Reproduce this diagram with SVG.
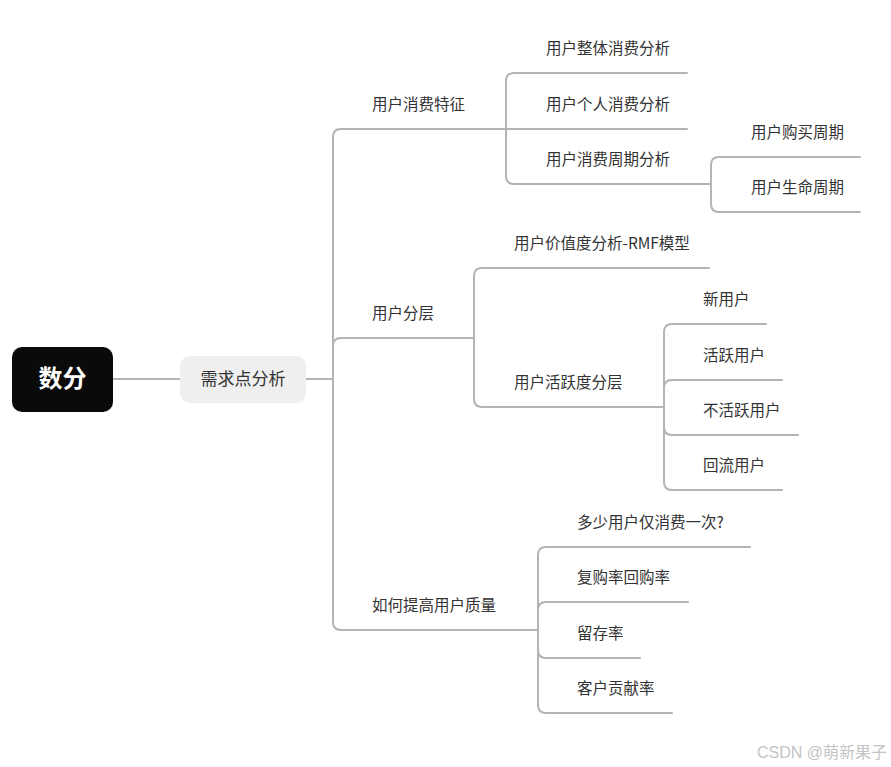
<svg xmlns="http://www.w3.org/2000/svg" width="891" height="767" viewBox="0 0 891 767">
<style>
.c{fill:none;stroke:#b4b4b4;stroke-width:2;stroke-linecap:round}
.t{font-family:"Microsoft YaHei","Noto Sans CJK SC","Noto Sans",sans-serif;font-size:15.5px;fill:#333}
.root{font-family:"Noto Sans CJK SC","Noto Sans",sans-serif;font-size:24px;font-weight:bold;fill:#fff}
.main{font-family:"Noto Sans CJK SC","Noto Sans",sans-serif;font-size:17px;fill:#333}
.wm{font-family:"Liberation Sans","Noto Sans CJK SC",sans-serif;font-size:16px;fill:#c4c4c4}
</style>
<rect width="891" height="767" fill="#fff"/>
<g id="connectors">
<path class="c" d="M113,379 H180"/>
<path class="c" d="M306,379 H333"/>
<path class="c" d="M333,379 V137 Q333,129 341,129 H506"/>
<path class="c" d="M333,379 V346 Q333,338 341,338 H474"/>
<path class="c" d="M333,379 V622 Q333,630 341,630 H538"/>
<path class="c" d="M506,129 V81 Q506,73 514,73 H687"/>
<path class="c" d="M506,129 H687"/>
<path class="c" d="M506,129 V176 Q506,184 514,184 H711"/>
<path class="c" d="M711,184 V165 Q711,157 719,157 H860"/>
<path class="c" d="M711,184 V204 Q711,212 719,212 H860"/>
<path class="c" d="M474,338 V276 Q474,268 482,268 H709"/>
<path class="c" d="M474,338 V399 Q474,407 482,407 H664"/>
<path class="c" d="M664,407 V332 Q664,324 672,324 H766"/>
<path class="c" d="M664,407 V388 Q664,380 672,380 H782"/>
<path class="c" d="M664,407 V427 Q664,435 672,435 H798"/>
<path class="c" d="M664,407 V482 Q664,490 672,490 H782"/>
<path class="c" d="M538,630 V555 Q538,547 546,547 H750"/>
<path class="c" d="M538,630 V610 Q538,602 546,602 H688"/>
<path class="c" d="M538,630 V650 Q538,658 546,658 H640"/>
<path class="c" d="M538,630 V705 Q538,713 546,713 H672"/>
</g>
<g id="root"><rect x="12" y="347" width="101" height="65" rx="10" fill="#0a0a0a"/><text class="root" x="62.5" y="387" text-anchor="middle">数分</text></g>
<g id="n-main"><rect x="180" y="356" width="126" height="47" rx="10" fill="#efefef"/><text class="main" x="243" y="385" text-anchor="middle">需求点分析</text></g>
<g id="n1"><text class="t" x="372" y="110">用户消费特征</text></g>
<g id="n2"><text class="t" x="372" y="319">用户分层</text></g>
<g id="n3"><text class="t" x="372" y="611">如何提高用户质量</text></g>
<g id="n1a"><text class="t" x="546" y="54">用户整体消费分析</text></g>
<g id="n1b"><text class="t" x="546" y="110">用户个人消费分析</text></g>
<g id="n1c"><text class="t" x="546" y="165">用户消费周期分析</text></g>
<g id="n1c1"><text class="t" x="751" y="138">用户购买周期</text></g>
<g id="n1c2"><text class="t" x="751" y="193">用户生命周期</text></g>
<g id="n2a"><text class="t" x="514" y="249">用户价值度分析-RMF模型</text></g>
<g id="n2b"><text class="t" x="514" y="388">用户活跃度分层</text></g>
<g id="n2b1"><text class="t" x="703" y="305">新用户</text></g>
<g id="n2b2"><text class="t" x="703" y="361">活跃用户</text></g>
<g id="n2b3"><text class="t" x="703" y="416">不活跃用户</text></g>
<g id="n2b4"><text class="t" x="703" y="471">回流用户</text></g>
<g id="n3a"><text class="t" x="577" y="528">多少用户仅消费一次?</text></g>
<g id="n3b"><text class="t" x="577" y="583">复购率回购率</text></g>
<g id="n3c"><text class="t" x="577" y="639">留存率</text></g>
<g id="n3d"><text class="t" x="577" y="694">客户贡献率</text></g>
<text class="wm" x="887" y="758" text-anchor="end">CSDN @萌新果子</text>
</svg>
